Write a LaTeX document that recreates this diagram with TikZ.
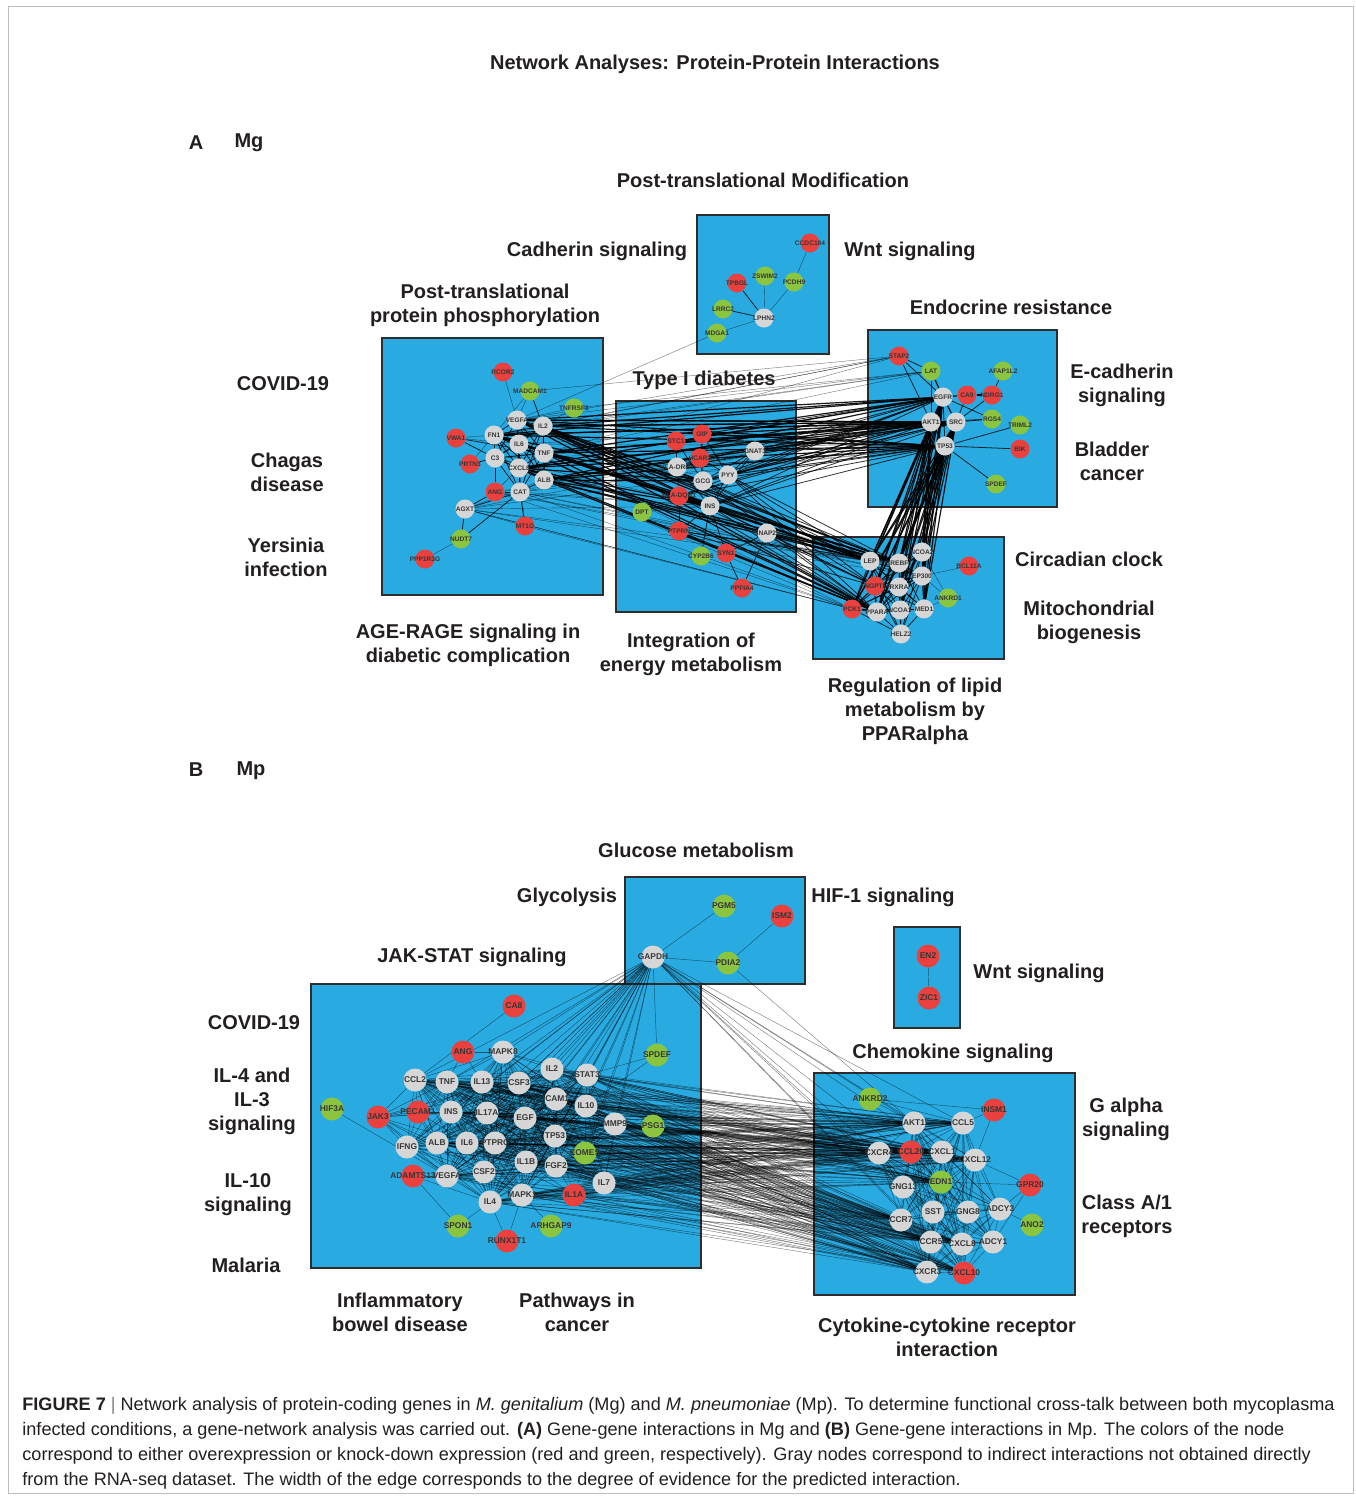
\documentclass[tikz,border=0pt]{standalone}
\usepackage{fontspec}
\setmainfont{Liberation Sans}
\definecolor{boxblue}{RGB}{41,171,226}
\definecolor{boxedge}{RGB}{45,45,45}
\definecolor{nred}{RGB}{234,64,62}
\definecolor{ngreen}{RGB}{139,197,63}
\definecolor{ngray}{RGB}{214,214,214}
\definecolor{nodetext}{RGB}{55,55,55}
\definecolor{labtext}{RGB}{35,31,32}
\definecolor{framegray}{RGB}{190,190,190}
\pgfdeclarelayer{bg}
\pgfdeclarelayer{edges}
\pgfsetlayers{bg,edges,main}
\newcommand{\gnd}[5]{\node[#1,#2] (#3) at (#4) {\makebox[0pt]{#5}};}
\tikzset{
  box/.style={fill=boxblue, draw=boxedge, line width=1pt},
  na/.style={circle, inner sep=0pt, minimum size=9.5pt, font=\bfseries\fontsize{3.3}{3.3}\selectfont, text=nodetext},
  nb/.style={circle, inner sep=0pt, minimum size=11.5pt, font=\bfseries\fontsize{4.2}{4.2}\selectfont, text=nodetext},
  rd/.style={fill=nred}, gn/.style={fill=ngreen}, gy/.style={fill=ngray},
  lab/.style={font=\bfseries\fontsize{10}{12}\selectfont, align=center, text=labtext, yshift=-1pt},
  ethin/.style={draw=black, line width=0.2pt, opacity=0.55},
  emed/.style={draw=black, line width=0.4pt, opacity=0.8},
  ethick/.style={draw=black, line width=0.6pt, opacity=0.9},
  eb/.style={draw=black, line width=0.22pt, opacity=0.5},
  capline/.style={anchor=base west, inner sep=0pt, font=\fontsize{9.05}{10}\selectfont, text=labtext},
}
\begin{document}
\begin{tikzpicture}[x=0.5pt,y=-0.5pt]
\useasboundingbox (0,0) rectangle (1356,1496);
\begin{pgfonlayer}{bg}
\fill[white] (0,0) rectangle (1356,1496);
\draw[framegray, line width=0.5pt] (8,6) rectangle (1353,1493);
\end{pgfonlayer}

% ---------- titles and panel labels
\node[lab] (title) at (715,62) {Network Analyses: Protein-Protein Interactions};
\node[lab] (pA) at (196,141) {A};
\node[lab] (pAn) at (249,141) {Mg};
\node[lab] (pB) at (196,768) {B};
\node[lab] (pBn) at (251,769) {Mp};

% ---------- boxes
\begin{pgfonlayer}{bg}
\draw[box] (697,215) rectangle (829,354);
\draw[box] (382,338) rectangle (603,595);
\draw[box] (616,401) rectangle (796,612);
\draw[box] (868,330) rectangle (1057,507);
\draw[box] (813,537) rectangle (1004,659);
\draw[box] (625,877) rectangle (805,984);
\draw[box] (894,927) rectangle (960,1028);
\draw[box] (311,984) rectangle (701,1268);
\draw[box] (814,1073) rectangle (1075,1295);
\end{pgfonlayer}

% ---------- panel A labels
\node[lab] (lA1) at (763,178) {Post-translational Modification};
\node[lab] (lA2) at (597,249) {Cadherin signaling};
\node[lab] (lA3) at (910,249) {Wnt signaling};
\node[lab] (lA4) at (485,303) {Post-translational\\protein phosphorylation};
\node[lab] (lA5) at (1011,305) {Endocrine resistance};
\node[lab] (lA6) at (283,382) {COVID-19};
\node[lab] (lA7) at (704,378) {Type I diabetes};
\node[lab] (lA8) at (1122,383) {E-cadherin\\signaling};
\node[lab] (lA9) at (287,470) {Chagas\\disease};
\node[lab] (lA10) at (1112,459) {Bladder\\cancer};
\node[lab] (lA11) at (286,555) {Yersinia\\infection};
\node[lab] (lA12) at (1089,557) {Circadian clock};
\node[lab] (lA13) at (1089,620) {Mitochondrial\\biogenesis};
\node[lab] (lA14) at (468,643) {AGE-RAGE signaling in\\diabetic complication};
\node[lab] (lA15) at (691,652) {Integration of\\energy metabolism};
\node[lab] (lA16) at (915,709) {Regulation of lipid\\metabolism by\\PPARalpha};

% ---------- panel B labels
\node[lab] (lB1) at (696,848) {Glucose metabolism};
\node[lab] (lB2) at (567,895) {Glycolysis};
\node[lab] (lB3) at (883,895) {HIF-1 signaling};
\node[lab] (lB4) at (472,955) {JAK-STAT signaling};
\node[lab] (lB5) at (1039,971) {Wnt signaling};
\node[lab] (lB6) at (254,1021) {COVID-19};
\node[lab] (lB7) at (953,1051) {Chemokine signaling};
\node[lab] (lB8) at (252,1099) {IL-4 and\\IL-3\\signaling};
\node[lab] (lB9) at (1126,1117) {G alpha\\signaling};
\node[lab] (lB10) at (248,1193) {IL-10\\signaling};
\node[lab] (lB11) at (1127,1214) {Class A/1\\receptors};
\node[lab] (lB12) at (246,1263) {Malaria};
\node[lab] (lB13) at (400,1310) {Inflammatory\\bowel disease};
\node[lab] (lB14) at (577,1310) {Pathways in\\cancer};
\node[lab] (lB15) at (947,1335) {Cytokine-cytokine receptor\\interaction};

% ---------- panel A nodes
\gnd{na}{rd}{aCCDC184}{810,243}{CCDC184}
\gnd{na}{rd}{aTPBGL}{737,283}{TPBGL}
\gnd{na}{gn}{aZSWIM2}{765,276}{ZSWIM2}
\gnd{na}{gn}{aPCDH9}{794,282}{PCDH9}
\gnd{na}{gn}{aLRRC2}{723,309}{LRRC2}
\gnd{na}{gy}{aLPHN2}{764,318}{LPHN2}
\gnd{na}{gn}{aMDGA1}{717,333}{MDGA1}

\gnd{na}{rd}{aRCOR2}{503,372}{RCOR2}
\gnd{na}{gn}{aMADCAM1}{530,391}{MADCAM1}
\gnd{na}{gn}{aTNFRSF8}{574,408}{TNFRSF8}
\gnd{na}{gy}{aVEGFA}{517,420}{VEGFA}
\gnd{na}{gy}{aIL2}{543,426}{IL2}
\gnd{na}{gy}{aFN1}{494,435}{FN1}
\gnd{na}{rd}{aVWA1}{456,438}{VWA1}
\gnd{na}{gy}{aIL6}{519,444}{IL6}
\gnd{na}{gy}{aTNF}{544,453}{TNF}
\gnd{na}{gy}{aC3}{495,458}{C3}
\gnd{na}{rd}{aPRTN3}{470,464}{PRTN3}
\gnd{na}{gy}{aCXCL8}{519,468}{CXCL8}
\gnd{na}{gy}{aALB}{544,480}{ALB}
\gnd{na}{rd}{aANG}{495,492}{ANG}
\gnd{na}{gy}{aCAT}{520,492}{CAT}
\gnd{na}{gy}{aAGXT}{465,509}{AGXT}
\gnd{na}{rd}{aMT1G}{525,526}{MT1G}
\gnd{na}{gn}{aNUDT7}{461,539}{NUDT7}
\gnd{na}{rd}{aPPP1R3G}{425,559}{PPP1R3G}

\gnd{na}{rd}{aGIP}{702,434}{GIP}
\gnd{na}{rd}{aSTC1}{676,441}{STC1}
\gnd{na}{gy}{aGNAT3}{755,451}{GNAT3}
\gnd{na}{rd}{aHCAR2}{700,458}{HCAR2}
\gnd{na}{gy}{aHLADRB1}{677,467}{HLA-DRB1}
\gnd{na}{gy}{aPYY}{728,475}{PYY}
\gnd{na}{gy}{aGCG}{703,481}{GCG}
\gnd{na}{rd}{aHLADQB1}{679,496}{HLA-DQB1}
\gnd{na}{gy}{aINS}{710,506}{INS}
\gnd{na}{gn}{aDPT}{642,512}{DPT}
\gnd{na}{gy}{aSNAP25}{767,533}{SNAP25}
\gnd{na}{rd}{aPTPRN}{679,531}{PTPRN}
\gnd{na}{rd}{aSYN1}{726,553}{SYN1}
\gnd{na}{gn}{aCYP2B6}{701,556}{CYP2B6}
\gnd{na}{rd}{aPPFIA4}{742,588}{PPFIA4}

\gnd{na}{rd}{aSTAP2}{899,356}{STAP2}
\gnd{na}{gn}{aLAT}{931,371}{LAT}
\gnd{na}{gn}{aAFAP1L2}{1003,371}{AFAP1L2}
\gnd{na}{gy}{aEGFR}{943,397}{EGFR}
\gnd{na}{rd}{aCA9}{967,395}{CA9}
\gnd{na}{rd}{aNDRG1}{992,395}{NDRG1}
\gnd{na}{gy}{aAKT1}{931,422}{AKT1}
\gnd{na}{gy}{aSRC}{956,422}{SRC}
\gnd{na}{gn}{aRGS4}{992,419}{RGS4}
\gnd{na}{gn}{aTRIML2}{1020,425}{TRIML2}
\gnd{na}{gy}{aTP53}{945,446}{TP53}
\gnd{na}{rd}{aBIK}{1020,449}{BIK}
\gnd{na}{gn}{aSPDEF}{996,484}{SPDEF}

\gnd{na}{gy}{aLEP}{870,561}{LEP}
\gnd{na}{gy}{aNCOA2}{922,552}{NCOA2}
\gnd{na}{gy}{aSREBF1}{899,563}{SREBF1}
\gnd{na}{rd}{aBCL11A}{969,566}{BCL11A}
\gnd{na}{gy}{aEP300}{922,576}{EP300}
\gnd{na}{rd}{aANGPTL4}{875,586}{ANGPTL4}
\gnd{na}{gy}{aRXRA}{899,587}{RXRA}
\gnd{na}{gn}{aANKRD1}{948,598}{ANKRD1}
\gnd{na}{rd}{aPCK1}{852,609}{PCK1}
\gnd{na}{gy}{aPPARA}{877,612}{PPARA}
\gnd{na}{gy}{aNCOA1}{900,610}{NCOA1}
\gnd{na}{gy}{aMED1}{924,609}{MED1}
\gnd{na}{gy}{aHELZ2}{901,634}{HELZ2}

% ---------- panel B nodes
\gnd{nb}{gn}{bPGM5}{724,906}{PGM5}
\gnd{nb}{rd}{bISM2}{782,916}{ISM2}
\gnd{nb}{gy}{bGAPDH}{653,957}{GAPDH}
\gnd{nb}{gn}{bPDIA2}{728,963}{PDIA2}
\gnd{nb}{rd}{bEN2}{928,956}{EN2}
\gnd{nb}{rd}{bZIC1}{929,998}{ZIC1}

\gnd{nb}{rd}{bCA8}{514,1006}{CA8}
\gnd{nb}{rd}{bANG}{463,1052}{ANG}
\gnd{nb}{gy}{bMAPK8}{503,1052}{MAPK8}
\gnd{nb}{gn}{bSPDEF}{657,1055}{SPDEF}
\gnd{nb}{gy}{bIL2}{552,1069}{IL2}
\gnd{nb}{gy}{bSTAT3}{587,1075}{STAT3}
\gnd{nb}{gy}{bCCL2}{415,1080}{CCL2}
\gnd{nb}{gy}{bTNF}{447,1082}{TNF}
\gnd{nb}{gy}{bIL13}{482,1082}{IL13}
\gnd{nb}{gy}{bCSF3}{519,1083}{CSF3}
\gnd{nb}{gy}{bICAM1}{556,1099}{ICAM1}
\gnd{nb}{gy}{bIL10}{586,1106}{IL10}
\gnd{nb}{gn}{bHIF3A}{332,1109}{HIF3A}
\gnd{nb}{gy}{bINS}{451,1112}{INS}
\gnd{nb}{gy}{bIL17A}{487,1113}{IL17A}
\gnd{nb}{rd}{bJAK3}{378,1117}{JAK3}
\gnd{nb}{rd}{bPECAM1}{418,1112}{PECAM1}
\gnd{nb}{gy}{bEGF}{525,1118}{EGF}
\gnd{nb}{gy}{bMMP9}{615,1124}{MMP9}
\gnd{nb}{gn}{bPSG1}{653,1126}{PSG1}
\gnd{nb}{gy}{bTP53}{555,1136}{TP53}
\gnd{nb}{gy}{bIFNG}{407,1147}{IFNG}
\gnd{nb}{gy}{bALB}{437,1143}{ALB}
\gnd{nb}{gy}{bIL6}{467,1143}{IL6}
\gnd{nb}{gy}{bPTPRC}{495,1143}{PTPRC}
\gnd{nb}{gn}{bEOMES}{585,1153}{EOMES}
\gnd{nb}{gy}{bIL1B}{526,1162}{IL1B}
\gnd{nb}{gy}{bFGF2}{556,1166}{FGF2}
\gnd{nb}{gy}{bCSF2}{484,1172}{CSF2}
\gnd{nb}{rd}{bADAMTS13}{413,1176}{ADAMTS13}
\gnd{nb}{gy}{bVEGFA}{447,1176}{VEGFA}
\gnd{nb}{gy}{bIL7}{604,1183}{IL7}
\gnd{nb}{gy}{bMAPK1}{522,1195}{MAPK1}
\gnd{nb}{rd}{bIL1A}{574,1195}{IL1A}
\gnd{nb}{gy}{bIL4}{490,1202}{IL4}
\gnd{nb}{gn}{bSPON1}{458,1226}{SPON1}
\gnd{nb}{gn}{bARHGAP9}{551,1226}{ARHGAP9}
\gnd{nb}{rd}{bRUNX1T1}{507,1241}{RUNX1T1}

\gnd{nb}{gn}{bANKRD2}{870,1099}{ANKRD2}
\gnd{nb}{rd}{bINSM1}{994,1110}{INSM1}
\gnd{nb}{gy}{bAKT1}{914,1123}{AKT1}
\gnd{nb}{gy}{bCCL5}{963,1123}{CCL5}
\gnd{nb}{gy}{bCXCR4}{879,1153}{CXCR4}
\gnd{nb}{gy}{bCXCL12}{975,1160}{CXCL12}
\gnd{nb}{gy}{bCXCL1}{942,1152}{CXCL1}
\gnd{nb}{rd}{bCCL20}{911,1152}{CCL20}
\gnd{nb}{gy}{bGNG13}{903,1187}{GNG13}
\gnd{nb}{gn}{bEDN1}{941,1182}{EDN1}
\gnd{nb}{rd}{bGPR20}{1030,1185}{GPR20}
\gnd{nb}{gy}{bADCY3}{1000,1209}{ADCY3}
\gnd{nb}{gy}{bSST}{933,1212}{SST}
\gnd{nb}{gy}{bGNG8}{968,1212}{GNG8}
\gnd{nb}{gy}{bCCR7}{901,1220}{CCR7}
\gnd{nb}{gn}{bANO2}{1032,1225}{ANO2}
\gnd{nb}{gy}{bADCY1}{993,1242}{ADCY1}
\gnd{nb}{gy}{bCCR5}{931,1242}{CCR5}
\gnd{nb}{gy}{bCXCL8}{962,1244}{CXCL8}
\gnd{nb}{gy}{bCXCR3}{927,1272}{CXCR3}
\gnd{nb}{rd}{bCXCL10}{964,1273}{CXCL10}

% ---------- edges
\begin{pgfonlayer}{edges}
% panel A, box 1
\foreach \s/\t in {aCCDC184/aPCDH9,aPCDH9/aLPHN2,aZSWIM2/aLPHN2,aMDGA1/aLPHN2,aMDGA1/aVEGFA}
  \draw[ethin] (\s) -- (\t);
\foreach \s/\t in {aTPBGL/aLPHN2,aLRRC2/aLPHN2}
  \draw[emed] (\s) -- (\t);
% panel A, box 2
\def\hubA{aVEGFA,aIL2,aFN1,aIL6,aTNF,aC3,aCXCL8,aALB,aCAT}
\foreach \s [count=\i] in \hubA {
  \foreach \t [count=\j] in \hubA {
    \ifnum\j>\i \draw[emed] (\s) -- (\t); \fi
  }
}
\foreach \s/\t in {aRCOR2/aVEGFA,aMADCAM1/aVEGFA,aMADCAM1/aFN1,aTNFRSF8/aIL2,aTNFRSF8/aVEGFA,aVWA1/aFN1,aVWA1/aIL6,aPRTN3/aFN1,aANG/aCXCL8,aNUDT7/aPPP1R3G,aMT1G/aAGXT,aMT1G/aCXCL8,aMADCAM1/aSTAP2,aTNFRSF8/aLAT,aAGXT/aPCK1,aMT1G/aPCK1,aAGXT/aALB}
  \draw[ethin] (\s) -- (\t);
\foreach \s/\t in {aMADCAM1/aIL2,aVWA1/aC3,aVWA1/aTNF,aPRTN3/aC3,aANG/aCAT,aANG/aC3,aANG/aAGXT,aAGXT/aCAT,aAGXT/aNUDT7,aNUDT7/aCAT,aMT1G/aCAT}
  \draw[emed] (\s) -- (\t);
% panel A cross edges
\foreach \s in {aIL2,aTNF,aALB,aVEGFA,aCXCL8,aFN1}
  \foreach \t in {aEGFR,aAKT1,aTP53,aSRC,aLEP,aSREBF1,aPPARA,aINS,aGCG}
    \draw[ethick] (\s) -- (\t);
\foreach \s in {aCAT,aC3,aIL6,aAGXT,aANG}
  \foreach \t in {aAKT1,aTP53,aLEP,aPCK1,aEP300,aINS}
    \draw[ethin] (\s) -- (\t);
\foreach \s in {aSTAP2,aLAT}
  \foreach \t in {aIL2,aVEGFA,aFN1,aTNF}
    \draw[ethin] (\s) -- (\t);
% panel A, box 3
\foreach \s/\t in {aGIP/aHCAR2,aGIP/aGCG,aGIP/aPYY,aSTC1/aHLADRB1,aSTC1/aGCG,aHCAR2/aPYY,aHCAR2/aGCG,aHCAR2/aHLADRB1,aHLADRB1/aHLADQB1,aHLADRB1/aINS,aGCG/aINS,aGCG/aPYY,aPYY/aINS,aINS/aHLADQB1,aINS/aPTPRN,aINS/aSNAP25,aINS/aCYP2B6,aGNAT3/aPYY,aGNAT3/aGCG,aGNAT3/aINS,aSNAP25/aSYN1,aSNAP25/aPPFIA4,aSYN1/aPPFIA4,aPTPRN/aSYN1,aPTPRN/aHLADQB1,aSYN1/aINS}
  \draw[emed] (\s) -- (\t);
\draw[ethin] (aDPT) -- (aINS);
\foreach \s in {aINS,aGCG,aPYY,aHLADRB1,aHLADQB1,aSTC1,aGIP,aGNAT3}
  \foreach \t in {aEGFR,aAKT1,aTP53,aSRC}
    \draw[emed] (\s) -- (\t);
\foreach \s in {aINS,aGCG,aPYY,aSNAP25,aHLADQB1,aPTPRN}
  \foreach \t in {aLEP,aSREBF1,aPPARA,aANGPTL4}
    \draw[emed] (\s) -- (\t);
% panel A, box 4
\foreach \s/\t in {aSTAP2/aLAT,aSTAP2/aEGFR,aSTAP2/aAKT1,aLAT/aAKT1,aNDRG1/aAFAP1L2,aEGFR/aTP53,aSRC/aRGS4,aSRC/aCA9,aSRC/aNDRG1,aTP53/aBIK,aTP53/aSPDEF,aTP53/aTRIML2,aAKT1/aRGS4,aEGFR/aRGS4}
  \draw[emed] (\s) -- (\t);
\foreach \s/\t in {aLAT/aEGFR,aEGFR/aCA9,aCA9/aNDRG1,aEGFR/aAKT1,aEGFR/aSRC,aAKT1/aSRC,aAKT1/aTP53,aSRC/aTP53}
  \draw[ethick] (\s) -- (\t);
\foreach \s in {aAKT1,aTP53,aSRC,aEGFR}
  \foreach \t in {aLEP,aSREBF1,aNCOA2,aANGPTL4,aRXRA,aPCK1,aPPARA,aEP300,aNCOA1,aMED1}
    \draw[ethick] (\s) -- (\t);
% panel A, box 5
\def\hubAe{aLEP,aSREBF1,aNCOA2,aEP300,aANGPTL4,aRXRA,aPCK1,aPPARA,aNCOA1,aMED1,aHELZ2}
\foreach \s [count=\i] in \hubAe {
  \foreach \t [count=\j] in \hubAe {
    \ifnum\j>\i \draw[emed] (\s) -- (\t); \fi
  }
}
\foreach \s/\t in {aANKRD1/aMED1,aANKRD1/aEP300,aANKRD1/aNCOA2,aBCL11A/aEP300}
  \draw[ethin] (\s) -- (\t);

% panel B
\foreach \s/\t in {bGAPDH/bPGM5,bGAPDH/bPDIA2,bISM2/bPDIA2,bPDIA2/bAKT1,bEN2/bZIC1}
  \draw[eb] (\s) -- (\t);
\def\hubB{bMAPK8,bCCL2,bTNF,bIL13,bCSF3,bIL2,bSTAT3,bINS,bIL17A,bICAM1,bIL10,bEGF,bMMP9,bIFNG,bALB,bIL6,bPTPRC,bTP53,bFGF2,bIL1B,bCSF2,bVEGFA,bIL7,bIL4,bMAPK1}
\foreach \t in \hubB
  \draw[eb] (bGAPDH) -- (\t);
\foreach \t in {bAKT1,bCCL5,bCXCR4,bCXCL1,bCXCL12,bCXCL8,bCCR5,bCXCL10,bEDN1,bSST,bIL1A,bEOMES,bSPDEF}
  \draw[eb] (bGAPDH) -- (\t);
\foreach \s [count=\i] in \hubB {
  \foreach \t [count=\j] in \hubB {
    \ifnum\j>\i \draw[eb] (\s) -- (\t); \fi
  }
}
\foreach \t in {bCCL2,bPECAM1,bIFNG,bINS,bIL6,bALB,bIL4,bVEGFA,bCSF2,bIL2,bSTAT3,bIL10,bTNF}
  \draw[eb] (bJAK3) -- (\t);
\foreach \t in {bTNF,bINS,bIL6,bALB,bVEGFA,bIL17A,bIL13,bEGF,bIFNG,bCCL2}
  \draw[eb] (bPECAM1) -- (\t);
\foreach \t in {bMMP9,bTP53,bIL10,bFGF2,bIL2,bIL7,bIL1B}
  \draw[eb] (bEOMES) -- (\t);
\foreach \t in {bIL1B,bFGF2,bMAPK1,bIL4,bTP53,bIL6}
  \draw[eb] (bIL1A) -- (\t);
\foreach \s/\t in {bHIF3A/bVEGFA,bADAMTS13/bSPON1,bADAMTS13/bVEGFA,bADAMTS13/bIL4,bSPON1/bIL4,bANG/bMAPK8,bANG/bTNF,bANG/bIL13,bCA8/bCCL2,bSPDEF/bSTAT3,bSPDEF/bIL10,bPSG1/bMMP9,bARHGAP9/bMAPK1,bRUNX1T1/bIL4,bRUNX1T1/bMAPK1}
  \draw[eb] (\s) -- (\t);
\foreach \s in {bTNF,bIL13,bCSF3,bIL2,bSTAT3,bINS,bIL17A,bICAM1,bIL10,bEGF,bMMP9,bIL6,bPTPRC,bTP53,bFGF2,bIL1B,bIL7,bIL4,bMAPK1,bIL1A,bEOMES,bPSG1,bCCL2,bALB,bVEGFA}
  \foreach \t in {bAKT1,bCCL5,bCXCR4,bCCL20,bCXCL1,bCXCL12,bCCR7,bCCR5,bCXCL8,bCXCL10,bCXCR3,bEDN1}
    \draw[eb] (\s) -- (\t);
\def\hubBr{bAKT1,bCCL5,bCXCR4,bCCL20,bCXCL1,bCXCL12,bEDN1,bGNG13,bADCY3,bSST,bGNG8,bCCR7,bADCY1,bCCR5,bCXCL8,bCXCR3,bCXCL10}
\foreach \s [count=\i] in \hubBr {
  \foreach \t [count=\j] in \hubBr {
    \ifnum\j>\i \draw[eb] (\s) -- (\t); \fi
  }
}
\foreach \s/\t in {bANKRD2/bAKT1,bANKRD2/bCCL5,bANKRD2/bINSM1,bINSM1/bCCL5,bINSM1/bCXCL12,bGPR20/bADCY3,bGPR20/bADCY1,bGPR20/bEDN1,bGPR20/bCXCL12,bANO2/bADCY3}
  \draw[eb] (\s) -- (\t);
\end{pgfonlayer}

% ---------- caption
\node[capline] (cap1) at (22,1410) {\textbf{FIGURE 7} {\color{gray}|} Network analysis of protein-coding genes in \textit{M. genitalium} (Mg) and \textit{M. pneumoniae} (Mp). To determine functional cross-talk between both mycoplasma};
\node[capline] (cap2) at (22,1435) {infected conditions, a gene-network analysis was carried out. \textbf{(A)} Gene-gene interactions in Mg and \textbf{(B)} Gene-gene interactions in Mp. The colors of the node};
\node[capline] (cap3) at (22,1460) {correspond to either overexpression or knock-down expression (red and green, respectively). Gray nodes correspond to indirect interactions not obtained directly};
\node[capline] (cap4) at (22,1485) {from the RNA-seq dataset. The width of the edge corresponds to the degree of evidence for the predicted interaction.};
\end{tikzpicture}
\end{document}
